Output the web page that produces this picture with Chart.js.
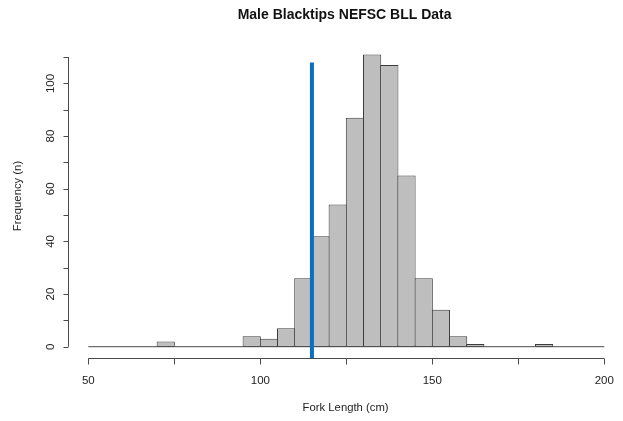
<!DOCTYPE html>
<html>
<head>
<meta charset="utf-8">
<script src="https://cdn.jsdelivr.net/npm/chart.js@4/dist/chart.umd.min.js"></script>
<style>
    html, body { margin: 0; padding: 0; background: #fff; }
    canvas { display: block; }
</style>
</head>
<body>
<canvas id="histChart" width="623" height="421"></canvas>
<script>
// Fork length bins (lower edge, cm) and male counts per bin
const binStarts = [50, 55, 60, 65, 70, 75, 80, 85, 90, 95, 100, 105, 110, 115, 120,
    125, 130, 135, 140, 145, 150, 155, 160, 165, 170, 175, 180, 185, 190, 195];
const binCounts = [0, 0, 0, 0, 2, 0, 0, 0, 0, 4, 3, 7, 26, 42, 54,
    87, 111, 107, 65, 26, 14, 4, 1, 0, 0, 0, 1, 0, 0, 0];
const binWidth = 5;

// Reference line (length at maturity)
const refLength = 115;
const refLineRange = [-4.4, 108];

const xTicks = [50, 75, 100, 125, 150, 175, 200];
const xTickLabels = ['50', '100', '150', '200'];
const yTicks = [0, 10, 20, 30, 40, 50, 60, 70, 80, 90, 100, 110];
const yTickLabels = ['0', '20', '40', '60', '80', '100'];

const chartTitle = 'Male Blacktips NEFSC BLL Data';
const xTitle = 'Fork Length (cm)';
const yTitle = 'Frequency (n)';

const axisColor = '#4a4a4a';
const textColor = '#222';
const font = (size, bold) => `${bold ? 'bold ' : ''}${size}px "Liberation Sans", Arial, sans-serif`;

const histPoints = binStarts.map((start, i) => ({ x: start + binWidth / 2, y: binCounts[i] }));

// R-style axes drawn against the chart scales
const baseAxes = {
    id: 'baseAxes',
    afterDraw(chart) {
        const { ctx, chartArea, scales: { x, y } } = chart;
        ctx.save();
        ctx.strokeStyle = axisColor;
        ctx.lineWidth = 1;
        ctx.fillStyle = textColor;

        // x axis
        const ay = Math.round(chartArea.bottom) + 0.5;
        ctx.beginPath();
        ctx.moveTo(x.getPixelForValue(xTicks[0]), ay);
        ctx.lineTo(x.getPixelForValue(xTicks[xTicks.length - 1]), ay);
        xTicks.forEach(v => {
            const px = Math.round(x.getPixelForValue(v)) + 0.5;
            ctx.moveTo(px, ay);
            ctx.lineTo(px, ay + 6);
        });
        ctx.stroke();
        ctx.font = font(11.5);
        ctx.textAlign = 'center';
        ctx.textBaseline = 'middle';
        xTickLabels.forEach(t => ctx.fillText(t, x.getPixelForValue(Number(t)), ay + 22));

        // y axis
        const ax = Math.round(chartArea.left) + 0.5;
        ctx.beginPath();
        ctx.moveTo(ax, y.getPixelForValue(yTicks[0]));
        ctx.lineTo(ax, y.getPixelForValue(yTicks[yTicks.length - 1]));
        yTicks.forEach(v => {
            const py = Math.round(y.getPixelForValue(v)) + 0.5;
            ctx.moveTo(ax, py);
            ctx.lineTo(ax - 5, py);
        });
        ctx.stroke();
        yTickLabels.forEach(t => {
            ctx.save();
            ctx.translate(ax - 18, y.getPixelForValue(Number(t)));
            ctx.rotate(-Math.PI / 2);
            ctx.fillText(t, 0, 0);
            ctx.restore();
        });

        // titles
        const midX = (chartArea.left + chartArea.right) / 2;
        ctx.font = font(14, true);
        ctx.fillStyle = '#111';
        ctx.fillText(chartTitle, midX, 15);
        ctx.font = font(11.3);
        ctx.fillStyle = textColor;
        ctx.fillText(xTitle, midX + 1, 408);
        ctx.save();
        ctx.translate(18, 196);
        ctx.rotate(-Math.PI / 2);
        ctx.fillText(yTitle, 0, 0);
        ctx.restore();
        ctx.restore();
    }
};

new Chart(document.getElementById('histChart'), {
    type: 'bar',
    data: {
        datasets: [
            {
                type: 'line',
                data: [{ x: refLength, y: refLineRange[0] }, { x: refLength, y: refLineRange[1] }],
                borderColor: '#0b6fc1',
                borderWidth: 4,
                pointRadius: 0,
                order: 0,
            },
            {
                data: histPoints,
                backgroundColor: '#bebebe',
                borderColor: '#3c3c3c',
                borderWidth: 1,
                borderSkipped: false,
                barPercentage: 1.06,
                categoryPercentage: 1,
                order: 1,
            },
            {
                type: 'line',
                data: [{ x: binStarts[0], y: 0 }, { x: binStarts[binStarts.length - 1] + binWidth, y: 0 }],
                borderColor: '#4a4a4a',
                borderWidth: 1,
                pointRadius: 0,
                order: 2,
            }
        ]
    },
    options: {
        responsive: false,
        animation: false,
        devicePixelRatio: 1,
        layout: { padding: { left: 67.7, right: 1.5, top: 42.9, bottom: 62.6 } },
        plugins: { legend: { display: false }, tooltip: { enabled: false } },
        scales: {
            x: { type: 'linear', min: 44, max: 205, offset: false, display: false },
            y: { type: 'linear', min: -4.44, max: 115.4, display: false }
        }
    },
    plugins: [baseAxes]
});
</script>
</body>
</html>
